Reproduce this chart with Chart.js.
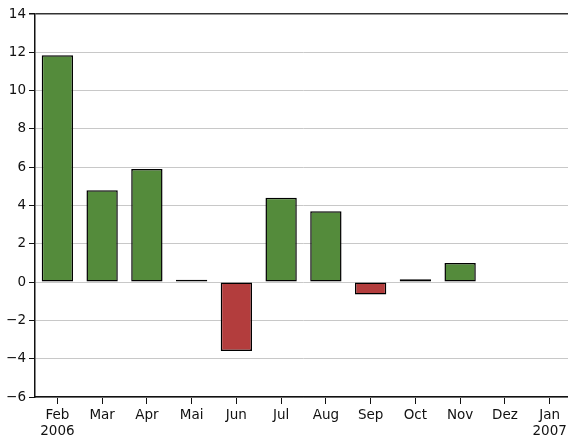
<!DOCTYPE html>
<html>
<head>
<meta charset="utf-8" />
<title>Monthly change</title>
<script src="https://cdn.jsdelivr.net/npm/chart.js"></script>
<style>
    html, body { margin: 0; padding: 0; background: #fff; overflow: hidden; }
    #wrap { position: relative; width: 572px; height: 444px; }
</style>
</head>
<body>
<div id="wrap"><canvas id="chart"></canvas></div>
<script>
// months (Feb 2006 - Jan 2007)
var months = [['Feb', '2006'], 'Mar', 'Apr', 'Mai', 'Jun', 'Jul', 'Aug', 'Sep', 'Oct', 'Nov', 'Dez', ['Jan', '2007']];
var values = [11.85, 4.8, 5.9, 0.12, -3.6, 4.4, 3.7, -0.65, 0.15, 1.0, null, null];
var yTicks = [-6, -4, -2, 0, 2, 4, 6, 8, 10, 12, 14];

var green = '#548b3b';
var red = '#b33d3d';

Chart.defaults.font.family = 'DejaVu Sans';
Chart.defaults.font.size = 13.5;
Chart.defaults.color = '#111';

var ctx = document.getElementById('chart').getContext('2d');
var chart = new Chart(ctx, {
    type: 'bar',
    data: {
        labels: months,
        datasets: [{
            data: values,
            backgroundColor: values.map(function (v) { return v < 0 ? red : green; }),
            borderColor: '#000',
            borderWidth: 1.5,
            borderSkipped: false,
            barPercentage: 0.7,
            categoryPercentage: 1
        }]
    },
    options: {
        responsive: true,
        maintainAspectRatio: false,
        animation: false,
        layout: { padding: { top: 14, right: 0, left: 0, bottom: 0 } },
        plugins: { legend: { display: false }, tooltip: { enabled: false } },
        scales: {
            x: {
                offset: true,
                grid: { drawOnChartArea: false, tickLength: 7, tickColor: '#111', offset: false },
                border: { color: '#111', width: 1.5 },
                ticks: { padding: 3, maxRotation: 0, autoSkip: false },
                afterFit: function (s) { s.height = 47; }
            },
            y: {
                min: -6,
                max: 14,
                afterBuildTicks: function (s) { s.ticks = yTicks.map(function (v) { return { value: v }; }); },
                grid: {
                    color: function (c) { return c.tick && c.tick.value === 14 ? '#333' : '#c8c8c8'; },
                    lineWidth: function (c) { return c.tick && c.tick.value === 14 ? 1.5 : 1; },
                    tickLength: 6,
                    tickColor: '#111'
                },
                border: { color: '#111', width: 1.5 },
                ticks: {
                    padding: 3,
                    callback: function (v) { return v < 0 ? '\u2212' + Math.abs(v) : v; }
                },
                afterFit: function (s) { s.width = 35; }
            }
        }
    }
});
</script>
</body>
</html>
